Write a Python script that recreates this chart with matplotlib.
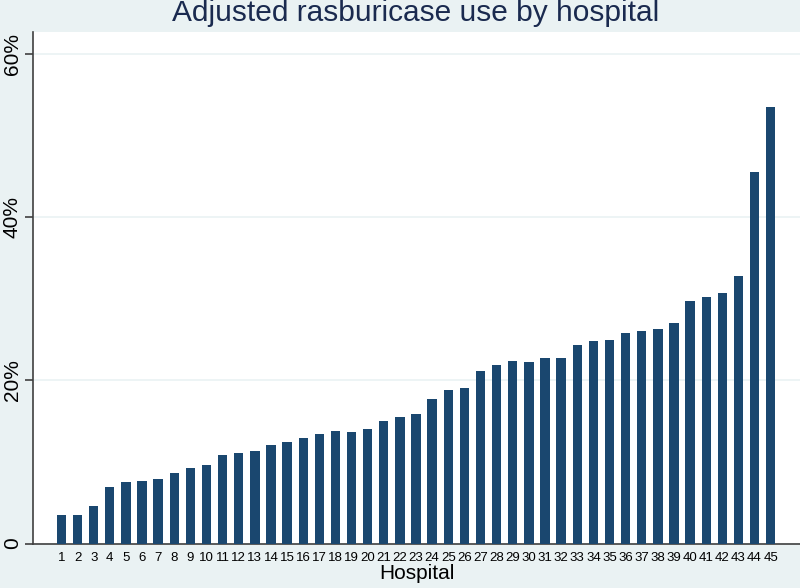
import matplotlib.pyplot as plt
from matplotlib.ticker import FixedLocator

# Adjusted rasburicase use (%) per hospital, sorted ascending
hospitals = list(range(1, 46))
use_pct = [3.5, 3.5, 4.6, 6.9, 7.5, 7.7, 7.9, 8.6, 9.3, 9.6,
           10.8, 11.1, 11.4, 12.1, 12.5, 13.0, 13.4, 13.8, 13.7, 14.1,
           15.0, 15.5, 15.9, 17.7, 18.8, 19.1, 21.2, 21.9, 22.4, 22.2,
           22.7, 22.8, 24.3, 24.8, 24.9, 25.8, 26.1, 26.3, 27.0, 29.7,
           30.2, 30.7, 32.8, 45.6, 53.5]
y_ticks = [0, 20, 40, 60]
y_labels = ['0', '20%', '40%', '60%']

bg = '#eaf2f3'
navy = '#1a476f'
plt.rcParams['font.family'] = ['Liberation Sans', 'DejaVu Sans']

fig = plt.figure(figsize=(8, 5.88), dpi=100, facecolor=bg)
ax = fig.add_axes([0.0413, 0.0755, 0.9587, 0.870])
ax.set_facecolor('white')

ax.bar(hospitals, use_pct, width=0.58, color=navy, zorder=3)

ax.set_xlim(-0.76, 46.82)
ax.set_ylim(0, 62.7)
ax.set_xticks(hospitals)
ax.set_xticklabels([str(h) for h in hospitals], fontsize=9.5)
ax.tick_params(axis='x', length=0, pad=6)
ax.yaxis.set_major_locator(FixedLocator(y_ticks))
ax.set_yticklabels(y_labels, fontsize=15, rotation=90, va='center')
ax.tick_params(axis='y', length=6, width=1.2, color='#404040', pad=2)
ax.grid(axis='y', color=bg, linewidth=1.2, zorder=0)

for side in ['top', 'right']:
    ax.spines[side].set_visible(False)
for side in ['left', 'bottom']:
    ax.spines[side].set_color('#404040')
    ax.spines[side].set_linewidth(1.2)

ax.set_xlabel('Hospital', fontsize=15, labelpad=0)
fig.text(0.52, 0.978, 'Adjusted rasburicase use by hospital', fontsize=21.5,
         color='#1a2a4f', ha='center', va='center')

fig.savefig('out.png', dpi=100, facecolor=bg)
